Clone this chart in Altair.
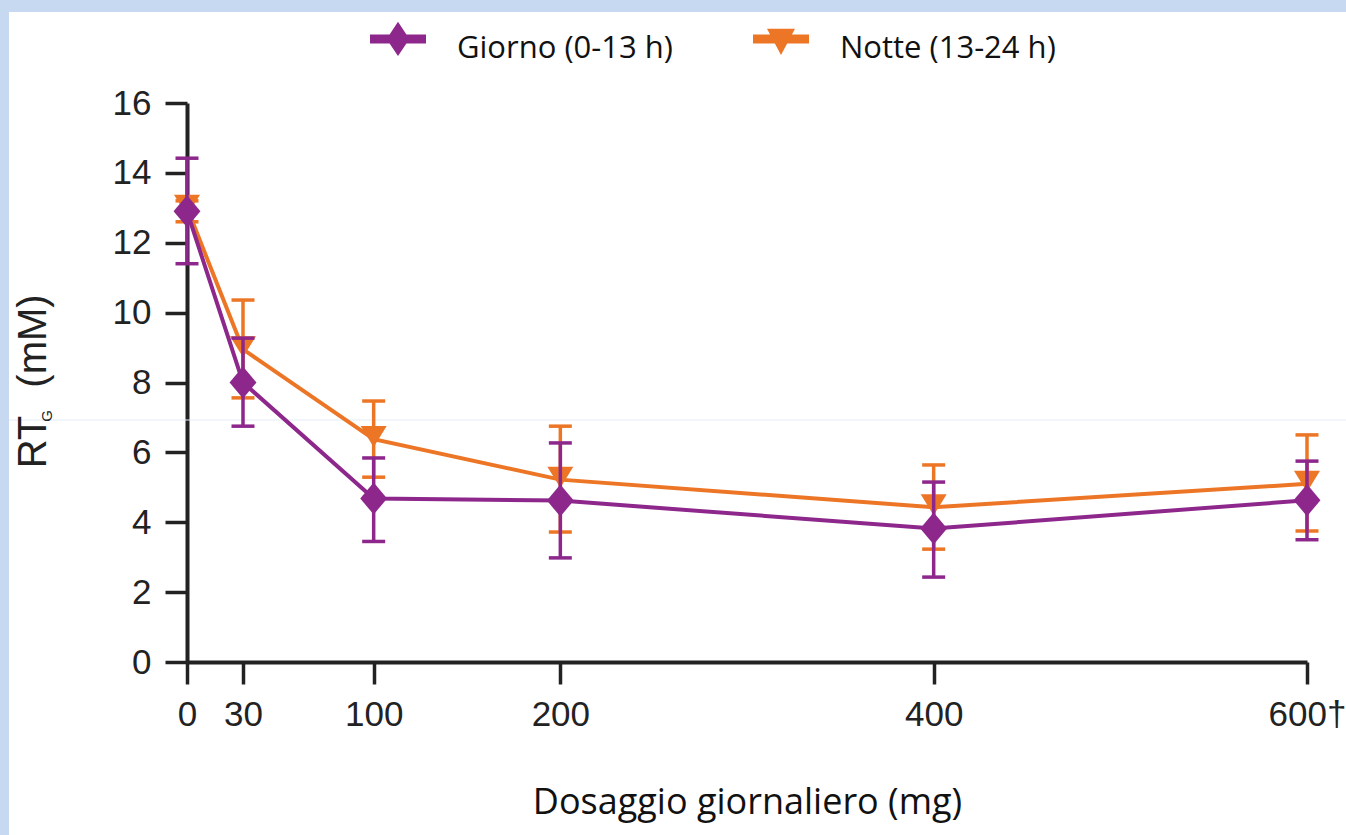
import altair as alt
import pandas as pd

# ---------------- data ----------------
doses = [0, 30, 100, 200, 400, 600]
series = ["Giorno (0-13 h)", "Notte (13-24 h)"]
giorno_mean = [12.9, 8.0, 4.68, 4.62, 3.82, 4.63]
giorno_low = [11.4, 6.75, 3.45, 2.98, 2.43, 3.5]
giorno_high = [14.42, 9.27, 5.84, 6.27, 5.15, 5.75]
notte_mean = [13.0, 8.95, 6.38, 5.22, 4.43, 5.1]
notte_low = [12.6, 7.56, 5.29, 3.72, 3.23, 3.75]
notte_high = [13.2, 10.36, 7.47, 6.75, 5.64, 6.5]
x_ticks = [0, 30, 100, 200, 400, 600]
y_ticks = [0, 2, 4, 6, 8, 10, 12, 14, 16]
x_title = "Dosaggio giornaliero (mg)"
y_title_parts = ["RT", "G", "(mM)"]

PURPLE = "#8D278C"
ORANGE = "#EC7626"
BORDER = "#C6D9F0"
NARROW = "Liberation Sans Narrow, Liberation Sans, sans-serif"
SANS = "Open Sans, sans-serif"

rows = []
for s, m, lo, hi in [(series[0], giorno_mean, giorno_low, giorno_high),
                     (series[1], notte_mean, notte_low, notte_high)]:
    for d, a, b, c in zip(doses, m, lo, hi):
        rows.append({"dose": d, "serie": s, "mean": a, "low": b, "high": c})
df = pd.DataFrame(rows)

W, H = 1120, 559
PAD_L, PAD_T = 187, 103
PAD_R, PAD_B = 1346 - PAD_L - W, 835 - PAD_T - H

x_enc = alt.X("dose:Q",
              scale=alt.Scale(domain=[0, 600], nice=False, zero=True),
              axis=alt.Axis(values=x_ticks, title=x_title,
                            labelExpr="datum.value == 600 ? '600\u2020' : datum.label",
                            labelFlush=False, labelOverlap=False,
                            labelFont=NARROW, labelFontSize=35, labelColor="#222",
                            labelPadding=13, tickSize=22, tickWidth=3.5, tickColor="#222",
                            domainColor="#222", domainWidth=4, grid=False,
                            titleFont=SANS, titleFontSize=36, titleFontWeight="normal",
                            titleColor="#111", titlePadding=53))
y_scale = alt.Scale(domain=[0, 16], nice=False)
y_axis = alt.Axis(values=y_ticks, title=None, labelFont=NARROW, labelFontSize=35,
                  labelFlush=False, labelOverlap=False,
                  labelColor="#222", labelPadding=14, tickSize=22, tickWidth=3.5,
                  tickColor="#222", domainColor="#222", domainWidth=4, grid=False)

base = alt.Chart(df)

# legend-only layer (no marks drawn, entries from explicit domains)
legend_paths = [
    "M-1,-0.52L-0.3,-0.52L0,-0.97L0.3,-0.52L1,-0.52L1,-0.2L0.3,-0.2L0,0.25L-0.3,-0.2L-1,-0.2Z",
    "M-1,-0.52L-0.39,-0.52L-0.5,-0.72L0.5,-0.72L0.39,-0.52L1,-0.52L1,-0.2L0.22,-0.2L0,0.21L-0.22,-0.2L-1,-0.2Z",
]
leg = alt.Legend(title=None, orient="none", legendX=183, legendY=-82, direction="horizontal",
                 symbolSize=3136, symbolStrokeWidth=0, labelFont=SANS, labelFontSize=31,
                 labelColor="#111", labelOffset=31, labelLimit=500, columnPadding=80,
                 padding=0, symbolOpacity=1)
legend_layer = base.transform_filter("false").mark_point(filled=True, opacity=1).encode(
    x=x_enc,
    y=alt.Y("mean:Q", scale=y_scale, axis=y_axis),
    color=alt.Color("serie:N", scale=alt.Scale(domain=series, range=[PURPLE, ORANGE]), legend=leg),
    shape=alt.Shape("serie:N", scale=alt.Scale(domain=series, range=legend_paths), legend=leg),
)

# decorative frame of the slide
frame = alt.Chart(pd.DataFrame({"k": [0]}))
top_band = frame.mark_rect(color=BORDER).encode(
    x=alt.value(-PAD_L), x2=alt.value(1346 - PAD_L), y=alt.value(-PAD_T), y2=alt.value(12 - PAD_T))
left_band = frame.mark_rect(color=BORDER).encode(
    x=alt.value(-PAD_L), x2=alt.value(9 - PAD_L), y=alt.value(-PAD_T), y2=alt.value(835 - PAD_T))
thin_line = frame.mark_rule(color="#E3ECF7", strokeWidth=1).encode(
    x=alt.value(9 - PAD_L), x2=alt.value(1346 - PAD_L), y=alt.value(420 - PAD_T))

DIAMOND = "M0,-1L0.84,0L0,1L-0.84,0Z"
TRIANGLE = "M-1,-1L1,-1L0,0.62Z"


def series_layers(name, color, shape, size):
    d = base.transform_filter(alt.datum.serie == name)
    bar = d.mark_rule(color=color, strokeWidth=3.5, opacity=1).encode(
        x="dose:Q", y=alt.Y("low:Q"), y2="high:Q")
    cap_lo = d.mark_tick(color=color, orient="horizontal", size=23, thickness=3.5, opacity=1).encode(
        x="dose:Q", y="low:Q")
    cap_hi = d.mark_tick(color=color, orient="horizontal", size=23, thickness=3.5, opacity=1).encode(
        x="dose:Q", y="high:Q")
    line = d.mark_line(color=color, strokeWidth=4).encode(x="dose:Q", y="mean:Q")
    pts = d.mark_point(filled=True, color=color, opacity=1, shape=shape, size=size).encode(
        x="dose:Q", y="mean:Q")
    return [bar, cap_lo, cap_hi, line, pts]


title_df = pd.DataFrame({"t": y_title_parts})
rt = alt.Chart(title_df).transform_filter(alt.datum.t == y_title_parts[0]).mark_text(
    font=NARROW, fontSize=40, angle=270, align="center", baseline="middle", color="#222"
).encode(text="t:N", x=alt.value(34 - PAD_L), y=alt.value(442 - PAD_T))
sub_g = alt.Chart(title_df).transform_filter(alt.datum.t == y_title_parts[1]).mark_text(
    font=NARROW, fontSize=15, angle=270, align="center", baseline="middle", color="#222"
).encode(text="t:N", x=alt.value(47 - PAD_L), y=alt.value(416 - PAD_T))
mm = alt.Chart(title_df).transform_filter(alt.datum.t == y_title_parts[2]).mark_text(
    font=NARROW, fontSize=40, angle=270, align="center", baseline="middle", color="#222"
).encode(text="t:N", x=alt.value(34 - PAD_L), y=alt.value(341 - PAD_T))

layers = [top_band, left_band, thin_line, legend_layer]
layers += series_layers(series[1], ORANGE, TRIANGLE, 676)
layers += series_layers(series[0], PURPLE, DIAMOND, 1024)
layers += [rt, sub_g, mm]

chart = alt.layer(*layers).properties(
    width=W, height=H,
    autosize=alt.AutoSizeParams(type="none"),
    padding={"left": PAD_L, "top": PAD_T, "right": PAD_R, "bottom": PAD_B},
    background="white",
).configure_view(stroke=None)

chart.save("out.html", embed_options={"renderer": "svg", "actions": False})
